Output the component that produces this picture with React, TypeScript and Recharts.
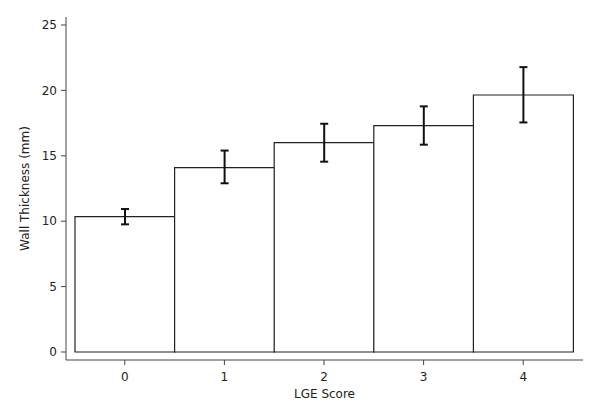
import React from 'react'
import { BarChart, Bar, XAxis, YAxis, ErrorBar } from 'recharts'

const categories = ['0', '1', '2', '3', '4']
const meanThickness = [10.35, 14.1, 16.0, 17.3, 19.65]
const lowerCI = [9.76, 12.9, 14.55, 15.85, 17.55]
const upperCI = [10.93, 15.4, 17.45, 18.78, 21.78]
const yTicks = [0, 5, 10, 15, 20, 25]

const data = categories.map((c, i) => ({
  score: c,
  thickness: meanThickness[i],
  err: [meanThickness[i] - lowerCI[i], upperCI[i] - meanThickness[i]],
}))

const font = { fontFamily: 'DejaVu Sans', fontSize: 12, fill: '#222' }

export default function App() {
  return (
    <div style={{ position: 'absolute', left: 0, top: 0, width: 600, height: 418, background: '#fff' }}>
      <BarChart
        width={600}
        height={418}
        data={data}
        barCategoryGap={0}
        margin={{ top: 17, right: 17, bottom: 18, left: 0 }}
      >
        <XAxis
          dataKey="score"
          height={40}
          padding={{ left: 9, right: 10 }}
          tickSize={5}
          tickMargin={7}
          stroke="#444"
          tick={font}
          label={{ value: 'LGE Score', position: 'insideBottom', offset: 2, style: font }}
        />
        <YAxis
          width={66}
          domain={[0, 25]}
          ticks={yTicks}
          padding={{ top: 8, bottom: 8 }}
          tickSize={5}
          tickMargin={4}
          stroke="#444"
          tick={font}
          label={{
            value: 'Wall Thickness (mm)',
            angle: -90,
            position: 'insideLeft',
            offset: 25,
            style: { ...font, textAnchor: 'middle' },
          }}
        />
        <Bar dataKey="thickness" fill="#fff" stroke="#222" strokeWidth={1.2} isAnimationActive={false}>
          <ErrorBar dataKey="err" width={4} stroke="#111" strokeWidth={2} />
        </Bar>
      </BarChart>
    </div>
  )
}
